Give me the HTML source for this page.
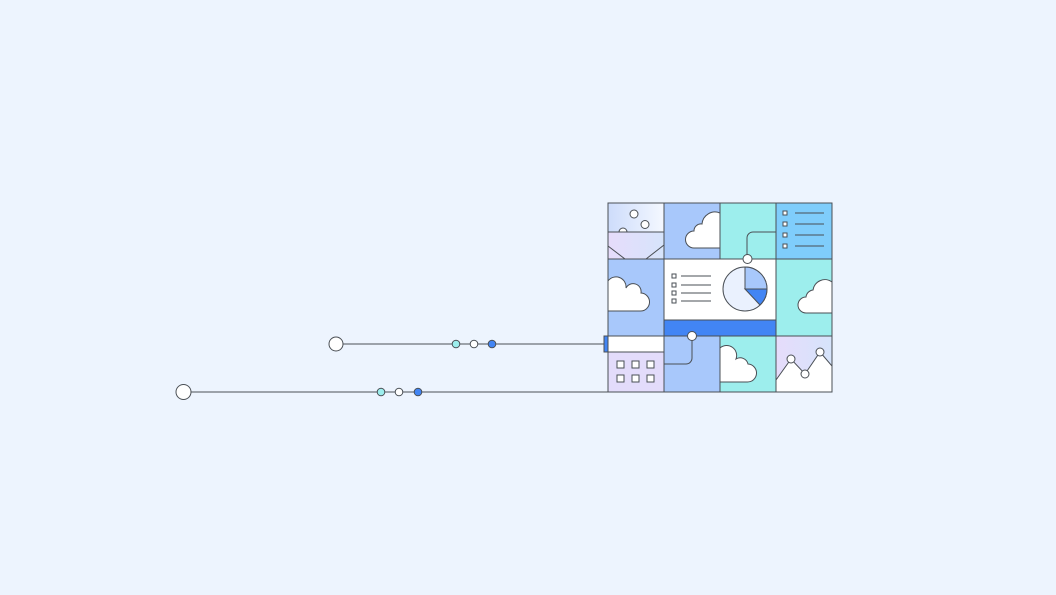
<!DOCTYPE html>
<html><head><style>html,body{margin:0;padding:0;background:#edf4fe;}svg{display:block}</style></head><body>
<svg width="1056" height="595" viewBox="0 0 1056 595" xmlns="http://www.w3.org/2000/svg">
<defs>
<linearGradient id="g1" x1="0" y1="0" x2="1" y2="0"><stop offset="0" stop-color="#cddcfb"/><stop offset="1" stop-color="#f4f8ff"/></linearGradient>
<linearGradient id="g2" x1="0" y1="0" x2="1" y2="0"><stop offset="0" stop-color="#e6dcfb"/><stop offset="1" stop-color="#d6e4fb"/></linearGradient>
<clipPath id="c12"><rect x="664" y="203" width="56" height="56"/></clipPath>
<clipPath id="c21"><rect x="608" y="259" width="56" height="77"/></clipPath>
<clipPath id="c24"><rect x="776" y="259" width="56" height="77"/></clipPath>
<clipPath id="c33"><rect x="720" y="336" width="56" height="56"/></clipPath>
<clipPath id="c11"><rect x="608" y="203" width="56" height="56"/></clipPath>
</defs>
<g stroke="#4a4f55" stroke-width="1">
<line x1="343" y1="344" x2="604" y2="344"/>
<circle cx="336" cy="344" r="7" fill="#fff"/>
<circle cx="456" cy="344" r="3.8" fill="#9deeed"/>
<circle cx="474" cy="344" r="3.8" fill="#fff"/>
<circle cx="492" cy="344" r="3.8" fill="#4285f4"/>
<line x1="191" y1="392" x2="608" y2="392"/>
<circle cx="183.5" cy="392" r="7.5" fill="#fff"/>
<circle cx="381" cy="392" r="3.8" fill="#9deeed"/>
<circle cx="399" cy="392" r="3.8" fill="#fff"/>
<circle cx="418" cy="392" r="3.8" fill="#4285f4"/>
<rect x="608" y="203" width="56" height="29" fill="url(#g1)"/>
<g clip-path="url(#c11)" fill="#fff"><circle cx="634" cy="214" r="4"/><circle cx="645" cy="224.5" r="4"/><circle cx="623" cy="232" r="4"/></g>
<rect x="608" y="232" width="56" height="27" fill="url(#g2)"/>
<polyline points="608,246 625,259" fill="none"/><polyline points="664,245 646,259" fill="none"/>
<line x1="608" y1="232" x2="664" y2="232"/>
<rect x="664" y="203" width="56" height="56" fill="#a8c8fb"/>
<g clip-path="url(#c12)"><path d="M720,248 H694 a8,8 0 0 1 0,-17 a7,7 0 0 1 8,-7 a13,13 0 0 1 18,-11 Z" fill="#fff"/></g>
<rect x="720" y="203" width="56" height="56" fill="#9deeed"/>
<rect x="776" y="203" width="56" height="56" fill="#7fcdfb"/>
<g fill="#fff"><rect x="783" y="211" width="4" height="4"/><rect x="783" y="222" width="4" height="4"/><rect x="783" y="233" width="4" height="4"/><rect x="783" y="244" width="4" height="4"/></g>
<line x1="795" y1="213" x2="824" y2="213"/><line x1="795" y1="224" x2="824" y2="224"/><line x1="795" y1="235" x2="824" y2="235"/><line x1="795" y1="246" x2="824" y2="246"/>
<rect x="608" y="259" width="56" height="77" fill="#a8c8fb"/>
<g clip-path="url(#c21)"><path d="M608,281 a10,10 0 0 1 18,7 a8,8 0 0 1 15,5 a9,9 0 0 1 -1,18 H608 Z" fill="#fff"/></g>
<rect x="664" y="259" width="112" height="61" fill="#fff"/>
<rect x="664" y="320" width="112" height="16" fill="#4285f4"/>
<g fill="#fff"><rect x="672" y="274" width="4" height="4"/><rect x="672" y="283" width="4" height="4"/><rect x="672" y="291" width="4" height="4"/><rect x="672" y="299" width="4" height="4"/></g>
<line x1="681" y1="276" x2="711" y2="276"/><line x1="681" y1="285" x2="711" y2="285"/><line x1="681" y1="293" x2="711" y2="293"/><line x1="681" y1="301" x2="711" y2="301"/>
<circle cx="745" cy="289" r="22" fill="#eaf1fe"/>
<path d="M745,289 V267 A22,22 0 0 1 767,289 Z" fill="#a8c8fb"/>
<path d="M745,289 H767 A22,22 0 0 1 760,305 Z" fill="#4285f4"/>
<rect x="776" y="259" width="56" height="77" fill="#9deeed"/>
<g clip-path="url(#c24)"><path d="M832,313 H806 a8,8 0 0 1 0,-16 a8,8 0 0 1 7,-7 a12,12 0 0 1 19,-8 Z" fill="#fff"/></g>
<rect x="604" y="336" width="5" height="16" fill="#4285f4"/>
<rect x="608" y="336" width="56" height="16" fill="#fff"/>
<rect x="608" y="352" width="56" height="40" fill="#e3dcfb"/>
<g fill="#fff"><rect x="617" y="361" width="7" height="7"/><rect x="632" y="361" width="7" height="7"/><rect x="647" y="361" width="7" height="7"/><rect x="617" y="375" width="7" height="7"/><rect x="632" y="375" width="7" height="7"/><rect x="647" y="375" width="7" height="7"/></g>
<rect x="664" y="336" width="56" height="56" fill="#a8c8fb"/>
<rect x="720" y="336" width="56" height="56" fill="#9deeed"/>
<g clip-path="url(#c33)"><path d="M720,348 a10,10 0 0 1 16,11 a8,8 0 0 1 12,5 a9,9 0 0 1 -1,18 H720 Z" fill="#fff"/></g>
<rect x="776" y="336" width="56" height="56" fill="url(#g2)"/>
<path d="M776,380 L791,359 L805,374 L820,352 L832,366 V392 H776 Z" fill="#fff"/>
<circle cx="791" cy="359" r="4" fill="#fff"/><circle cx="805" cy="374" r="4" fill="#fff"/><circle cx="820" cy="352" r="4" fill="#fff"/>
<path d="M747,259 V238 a6,6 0 0 1 6,-6 H776" fill="none"/>
<path d="M692,336 V358 a6,6 0 0 1 -6,6 H664" fill="none"/>
<g fill="none">
<rect x="608" y="203" width="224" height="189"/>
<line x1="664" y1="203" x2="664" y2="392"/><line x1="720" y1="203" x2="720" y2="259"/><line x1="720" y1="336" x2="720" y2="392"/><line x1="776" y1="203" x2="776" y2="392"/>
<line x1="608" y1="259" x2="832" y2="259"/><line x1="608" y1="336" x2="832" y2="336"/><line x1="664" y1="320" x2="776" y2="320"/><line x1="608" y1="352" x2="664" y2="352"/>
</g>
<circle cx="747.5" cy="259" r="4.5" fill="#fff"/>
<circle cx="692" cy="336" r="4.5" fill="#fff"/>
</g>
</svg>
</body></html>
